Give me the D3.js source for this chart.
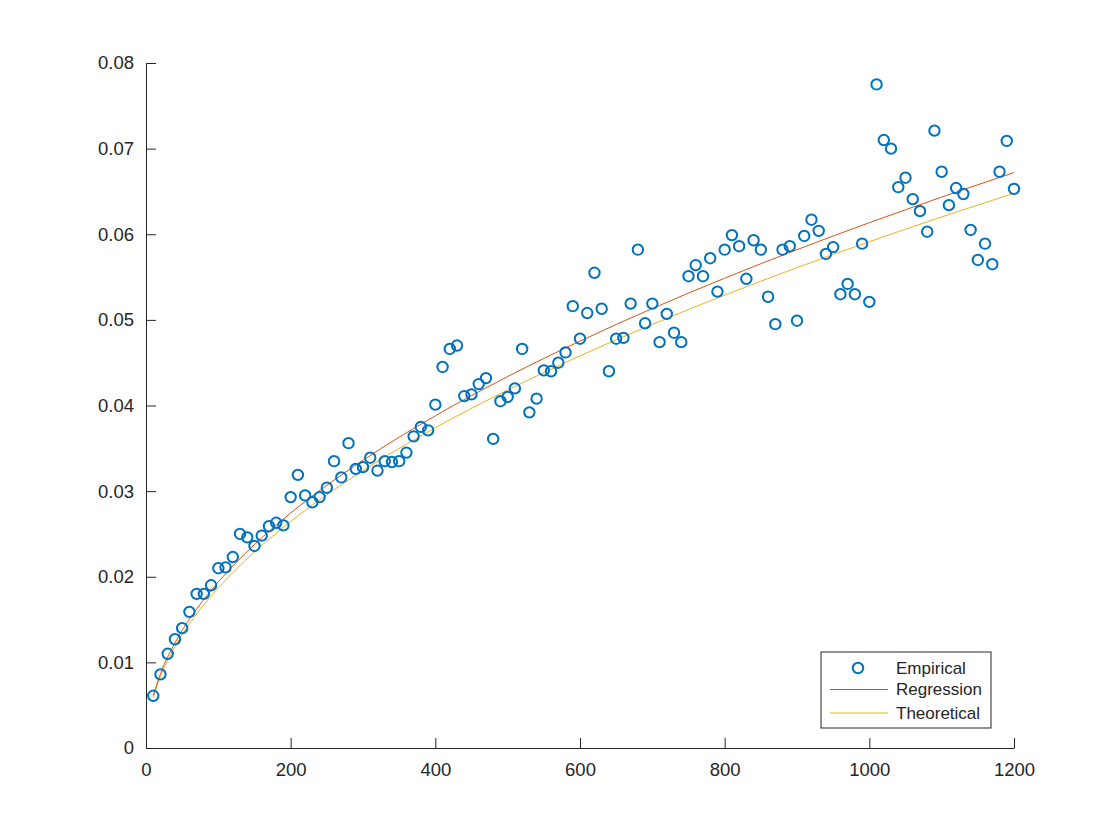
<!DOCTYPE html>
<html>
<head>
<meta charset="utf-8">
<script src="https://cdn.jsdelivr.net/npm/d3@7"></script>
<style>
  body { margin: 0; background: #fff; }
  svg { display: block; }
  text { font-family: "Liberation Sans", Arial, Helvetica, sans-serif; fill: #262626; }
</style>
</head>
<body>
<svg id="chart"></svg>
<script>
"use strict";

// sample sizes (x) and measured values
const sizes = d3.range(10, 1201, 10);
const empirical = [
  0.0061, 0.0086, 0.0110, 0.0127, 0.0140, 0.0159, 0.0180, 0.0180, 0.0190, 0.0210,
  0.0211, 0.0223, 0.0250, 0.0246, 0.0236, 0.0248, 0.0259, 0.0263, 0.0260, 0.0293,
  0.0319, 0.0295, 0.0287, 0.0293, 0.0304, 0.0335, 0.0316, 0.0356, 0.0326, 0.0328,
  0.0339, 0.0324, 0.0335, 0.0334, 0.0335, 0.0345, 0.0364, 0.0375, 0.0371, 0.0401,
  0.0445, 0.0466, 0.0470, 0.0411, 0.0413, 0.0425, 0.0432, 0.0361, 0.0405, 0.0410,
  0.0420, 0.0466, 0.0392, 0.0408, 0.0441, 0.0440, 0.0450, 0.0462, 0.0516, 0.0478,
  0.0508, 0.0555, 0.0513, 0.0440, 0.0478, 0.0479, 0.0519, 0.0582, 0.0496, 0.0519,
  0.0474, 0.0507, 0.0485, 0.0474, 0.0551, 0.0564, 0.0551, 0.0572, 0.0533, 0.0582,
  0.0599, 0.0586, 0.0548, 0.0593, 0.0582, 0.0527, 0.0495, 0.0582, 0.0586, 0.0499,
  0.0598, 0.0617, 0.0604, 0.0577, 0.0585, 0.0530, 0.0542, 0.0530, 0.0589, 0.0521,
  0.0775, 0.0710, 0.0700, 0.0655, 0.0666, 0.0641, 0.0627, 0.0603, 0.0721, 0.0673,
  0.0634, 0.0654, 0.0647, 0.0605, 0.0570, 0.0589, 0.0565, 0.0673, 0.0709, 0.0653
];

// fitted curves, read at these x positions
const curveX = [10, 20, 40, 70, 100, 150, 200, 300, 400, 500, 600, 700, 800, 900, 1000, 1100, 1200];
const regression = [0.00613, 0.00868, 0.01227, 0.01623, 0.0194, 0.02376, 0.02744, 0.0336, 0.0388,
  0.04338, 0.04752, 0.05133, 0.05487, 0.0582, 0.06135, 0.06434, 0.0672];
const theoretical = [0.00591, 0.00836, 0.01183, 0.01565, 0.0187, 0.0229, 0.02645, 0.03239, 0.0374,
  0.04181, 0.0458, 0.04947, 0.05289, 0.0561, 0.05913, 0.06202, 0.06478];

const xTicks = [0, 200, 400, 600, 800, 1000, 1200];
const yTicks = [0, 0.01, 0.02, 0.03, 0.04, 0.05, 0.06, 0.07, 0.08];
const legendLabels = ["Empirical", "Regression", "Theoretical"];

const width = 1120, height = 840;
const margin = { left: 146, right: 106, top: 63, bottom: 92 };

const blue = "#0072BD", red = "#D95319", yellow = "#EDB120";

const svg = d3.select("#chart")
    .attr("width", width)
    .attr("height", height);

const x = d3.scaleLinear()
    .domain([0, 1200])
    .range([margin.left, width - margin.right]);
const y = d3.scaleLinear()
    .domain([0, 0.08])
    .range([height - margin.bottom, margin.top]);

// axes (ticks point inward, no box)
const xAxis = svg.append("g")
    .attr("transform", `translate(0,${y(0)})`)
    .call(d3.axisBottom(x).tickValues(xTicks).tickFormat(d3.format("d"))
        .tickSizeInner(-10).tickSizeOuter(0).tickPadding(15));
const yAxis = svg.append("g")
    .attr("transform", `translate(${x(0)},0)`)
    .call(d3.axisLeft(y).tickValues(yTicks).tickFormat(d => d === 0 ? "0" : d3.format(".2f")(d))
        .tickSizeInner(-10).tickSizeOuter(0).tickPadding(12));

[xAxis, yAxis].forEach(a => {
    a.select(".domain").attr("stroke", "#262626").attr("stroke-width", 1);
    a.selectAll(".tick line").attr("stroke", "#262626").attr("stroke-width", 1);
    a.selectAll(".tick text")
        .attr("fill", "#262626")
        .style("font-size", "18.5px")
        .style("font-family", '"Liberation Sans", Arial, sans-serif');
});

// curves
const line = d3.line()
    .x((d, i) => x(curveX[i]))
    .y(d => y(d))
    .curve(d3.curveMonotoneX);

svg.append("path")
    .datum(theoretical)
    .attr("fill", "none")
    .attr("stroke", yellow)
    .attr("stroke-width", 1)
    .attr("d", line);

svg.append("path")
    .datum(regression)
    .attr("fill", "none")
    .attr("stroke", red)
    .attr("stroke-width", 1)
    .attr("d", line);

// empirical points
svg.append("g")
    .selectAll("circle")
    .data(empirical)
    .join("circle")
    .attr("cx", (d, i) => x(sizes[i]))
    .attr("cy", d => y(d))
    .attr("r", 5.2)
    .attr("fill", "none")
    .attr("stroke", blue)
    .attr("stroke-width", 2);

// legend
const lg = svg.append("g").attr("transform", "translate(821,652)");
lg.append("rect")
    .attr("width", 170)
    .attr("height", 76)
    .attr("fill", "#fff")
    .attr("stroke", "#262626")
    .attr("stroke-width", 1);

const rowY = [16, 37.5, 61];
lg.append("circle")
    .attr("cx", 37).attr("cy", rowY[0]).attr("r", 5.2)
    .attr("fill", "none").attr("stroke", blue).attr("stroke-width", 2);
lg.append("line")
    .attr("x1", 9).attr("x2", 67).attr("y1", rowY[1]).attr("y2", rowY[1])
    .attr("stroke", red).attr("stroke-width", 1);
lg.append("line")
    .attr("x1", 9).attr("x2", 67).attr("y1", rowY[2]).attr("y2", rowY[2])
    .attr("stroke", yellow).attr("stroke-width", 1);

lg.selectAll("text.label")
    .data(legendLabels)
    .join("text")
    .attr("class", "label")
    .attr("x", 75)
    .attr("y", (d, i) => rowY[i])
    .attr("dy", "0.35em")
    .style("font-size", "17px")
    .text(d => d);
</script>
</body>
</html>
